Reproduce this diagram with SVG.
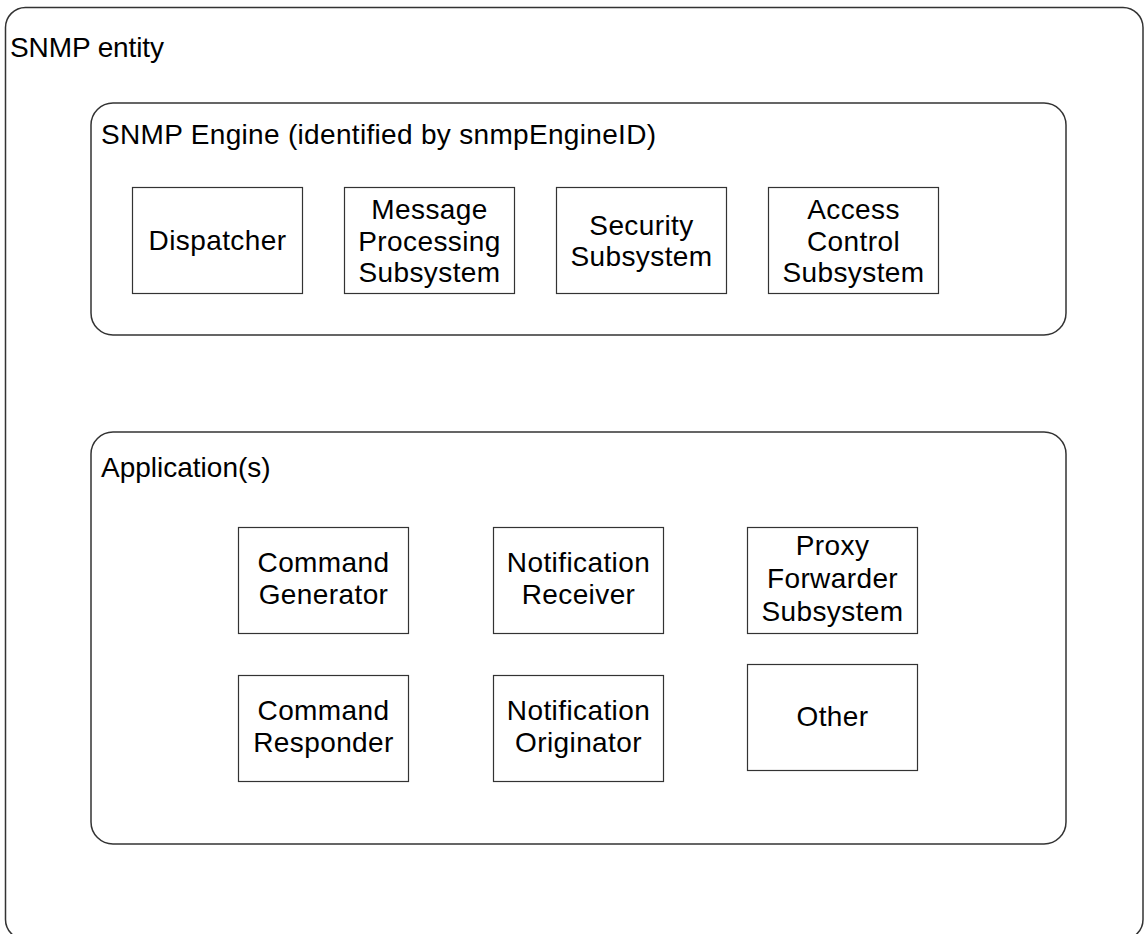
<svg xmlns="http://www.w3.org/2000/svg" width="1147" height="934" viewBox="0 0 1147 934">
<style>
  .container { fill: #ffffff; stroke: #333333; stroke-width: 1.5; }
  .box { fill: #ffffff; stroke: #333333; stroke-width: 1.2; }
  text { font-family: "Liberation Sans", Arial, sans-serif; font-size: 28px; fill: #000000; }
  .c { text-anchor: middle; letter-spacing: 0.4px; }
</style>
<rect width="1147" height="934" fill="#ffffff"/>
<g id="snmp-entity">
  <rect class="container" x="5.5" y="7.5" width="1137.5" height="932" rx="20" ry="20"/>
  <text x="10" y="57" textLength="154" lengthAdjust="spacing">SNMP entity</text>
</g>
<g id="snmp-engine">
  <rect class="container" x="91" y="103" width="975" height="232" rx="22" ry="22"/>
  <text x="101" y="144" textLength="555" lengthAdjust="spacing">SNMP Engine (identified by snmpEngineID)</text>
</g>
<g id="dispatcher">
  <rect class="box" x="132.5" y="187.5" width="170" height="106"/>
  <text class="c" x="217.5" y="250">Dispatcher</text>
</g>
<g id="message-processing">
  <rect class="box" x="344.5" y="187.5" width="170" height="106"/>
  <text class="c" x="429.5" y="219">Message</text>
  <text class="c" x="429.5" y="251">Processing</text>
  <text class="c" x="429.5" y="282">Subsystem</text>
</g>
<g id="security-subsystem">
  <rect class="box" x="556.5" y="187.5" width="170" height="106"/>
  <text class="c" x="641.5" y="235">Security</text>
  <text class="c" x="641.5" y="266">Subsystem</text>
</g>
<g id="access-control">
  <rect class="box" x="768.5" y="187.5" width="170" height="106"/>
  <text class="c" x="853.5" y="219">Access</text>
  <text class="c" x="853.5" y="251">Control</text>
  <text class="c" x="853.5" y="282">Subsystem</text>
</g>
<g id="applications">
  <rect class="container" x="91" y="432" width="975" height="412" rx="22" ry="22"/>
  <text x="101" y="477">Application(s)</text>
</g>
<g id="command-generator">
  <rect class="box" x="238.5" y="527.5" width="170" height="106"/>
  <text class="c" x="323.5" y="572">Command</text>
  <text class="c" x="323.5" y="604">Generator</text>
</g>
<g id="notification-receiver">
  <rect class="box" x="493.5" y="527.5" width="170" height="106"/>
  <text class="c" x="578.5" y="572">Notification</text>
  <text class="c" x="578.5" y="604">Receiver</text>
</g>
<g id="proxy-forwarder">
  <rect class="box" x="747.5" y="527.5" width="170" height="106"/>
  <text class="c" x="832.5" y="555">Proxy</text>
  <text class="c" x="832.5" y="588">Forwarder</text>
  <text class="c" x="832.5" y="621">Subsystem</text>
</g>
<g id="command-responder">
  <rect class="box" x="238.5" y="675.5" width="170" height="106"/>
  <text class="c" x="323.5" y="720">Command</text>
  <text class="c" x="323.5" y="752">Responder</text>
</g>
<g id="notification-originator">
  <rect class="box" x="493.5" y="675.5" width="170" height="106"/>
  <text class="c" x="578.5" y="720">Notification</text>
  <text class="c" x="578.5" y="752">Originator</text>
</g>
<g id="other">
  <rect class="box" x="747.5" y="664.5" width="170" height="106"/>
  <text class="c" x="832.5" y="726">Other</text>
</g>
<g id="connectors"></g>
</svg>
